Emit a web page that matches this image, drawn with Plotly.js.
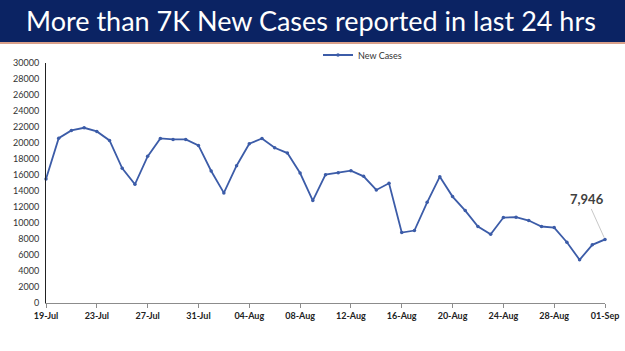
<!DOCTYPE html>
<html>
<head>
<meta charset="utf-8">
<script src="https://cdn.plot.ly/plotly-3.0.1.min.js"></script>
<style>html,body{margin:0;padding:0;background:#fff;}#chart{width:625px;height:351px;}</style>
</head>
<body>
<div id="chart"></div>
<script>
const startDate = '2020-07-19';
const endDate = '2020-09-01';
const newCases = [15500, 20600, 21570, 21900, 21450, 20320, 16830, 14840, 18330, 20570, 20450, 20450, 19700,
  16500, 13760, 17160, 19910, 20570, 19410, 18740, 16250, 12800, 16040, 16290, 16540, 15830, 14130, 14960,
  8810, 9060, 12590, 15790, 13300, 11550, 9560, 8600, 10680, 10720, 10310, 9560, 9430, 7600, 5400, 7270, 7946];
const seriesName = 'New Cases';
const titleText = 'More than 7K New Cases reported in last 24 hrs';
const lastLabel = '7,946';
const yTickVals = [0,2000,4000,6000,8000,10000,12000,14000,16000,18000,20000,22000,24000,26000,28000,30000];

// build date list from start date
const dates = [];
{
  const d0 = new Date(startDate + 'T00:00:00Z');
  for (let i = 0; i < newCases.length; i++) {
    const d = new Date(d0.getTime() + i * 86400000);
    dates.push(d.toISOString().slice(0, 10));
  }
}

const W = 625, H = 351;
const m = {l: 46, r: 20, t: 63, b: 48};
const pw = W - m.l - m.r, ph = H - m.t - m.b;
const px = v => (v - m.l) / pw;
const py = v => 1 - (v - m.t) / ph;

const trace = {
  x: dates, y: newCases, type: 'scatter', mode: 'lines+markers', name: seriesName,
  line: {color: '#3c5ca8', width: 1.8},
  marker: {color: '#3c5ca8', size: 3.5},
  cliponaxis: false
};

const layout = {
  width: W, height: H,
  margin: m,
  paper_bgcolor: '#fff', plot_bgcolor: '#fff',
  font: {family: 'Lato, "Open Sans", sans-serif', color: '#333'},
  showlegend: true,
  legend: {orientation: 'h', x: px(318), y: py(55), xanchor: 'left', yanchor: 'middle',
    font: {size: 9, color: '#333'}, bgcolor: 'rgba(0,0,0,0)', itemwidth: 30},
  xaxis: {
    type: 'date', range: [startDate, endDate],
    tick0: startDate, dtick: 4 * 86400000, tickformat: '%d-%b',
    showgrid: false, zeroline: false,
    showline: true, linecolor: '#8c8c8c', linewidth: 1,
    ticks: 'outside', ticklen: 4, tickcolor: '#8c8c8c',
    tickfont: {size: 9, color: '#222', weight: 'bold'}
  },
  yaxis: {
    range: [0, 30000], tickvals: yTickVals, ticktext: yTickVals.map(String),
    showgrid: false, zeroline: false,
    showline: true, linecolor: '#222', linewidth: 1,
    ticks: '', ticklabelstandoff: 4,
    tickfont: {size: 9, color: '#333'}
  },
  shapes: [
    {type: 'rect', xref: 'paper', yref: 'paper', x0: px(0), x1: px(W), y0: py(0), y1: py(42),
      fillcolor: '#0b2363', line: {width: 0}, layer: 'above'},
    {type: 'rect', xref: 'paper', yref: 'paper', x0: px(0), x1: px(W), y0: py(42), y1: py(44),
      fillcolor: '#d9a08a', line: {width: 0}, layer: 'above'}
  ],
  annotations: [
    {text: titleText, xref: 'paper', yref: 'paper', x: px(311), y: py(21), xanchor: 'center', yanchor: 'middle',
      showarrow: false, font: {size: 27, color: '#ffffff', family: 'Lato, "Open Sans", sans-serif'}},
    {text: '', xref: 'paper', yref: 'y', x: 0, y: 30300, ax: 0, ay: 8, showarrow: true,
      arrowhead: 2, arrowsize: 0.8, arrowwidth: 1, arrowcolor: '#222'},
    {text: lastLabel, x: dates[dates.length - 1], y: newCases[newCases.length - 1],
      ax: -18, ay: -40, showarrow: true, arrowhead: 0, arrowwidth: 1, arrowcolor: '#c8c8c8',
      standoff: 2, font: {size: 13, color: '#404040', weight: 'bold'}}
  ]
};

Plotly.newPlot('chart', [trace], layout, {staticPlot: true, displayModeBar: false});
</script>
</body>
</html>
